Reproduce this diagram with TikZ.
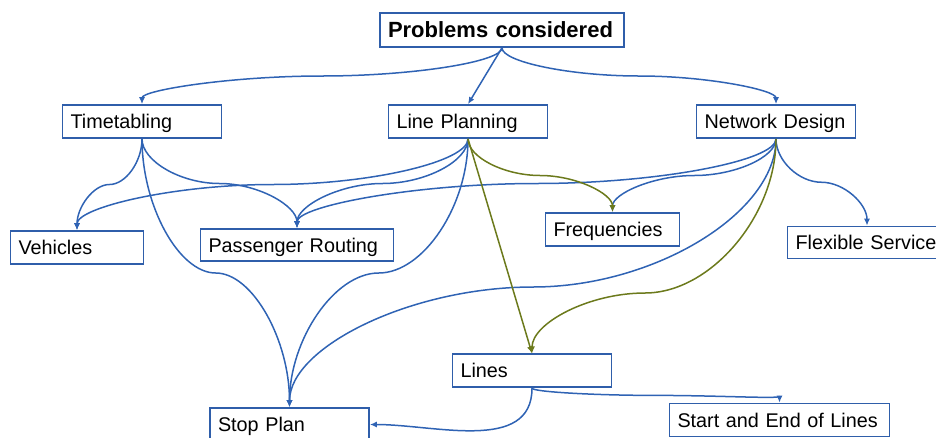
\documentclass[tikz,border=0pt]{standalone}
\usepackage{fontspec}
\setmainfont{Liberation Sans}
\usetikzlibrary{arrows.meta,calc}
\definecolor{boxblue}{RGB}{47,94,170}
\definecolor{linkblue}{RGB}{47,99,180}
\definecolor{linkolive}{RGB}{108,122,28}
\tikzset{box/.style={draw=boxblue, line width=1.7pt, text width=#1, inner xsep=8pt, inner ysep=0pt,
    text height=18pt, text depth=4pt, minimum height=33pt, align=left, font=\fontsize{19.8}{22}\selectfont},
%leaves downwards, runs level at the bend, enters downwards; bend is the middle by default
link/.style={line width=1.5pt, draw=linkblue, -{Latex[length=7pt,width=6pt]},
    to path={let \p1=(\tikztostart), \p2=(\tikztotarget), \p3=(#1) in
    .. controls (\x1,{(\y1+\y3)/2}) and ({(\x1+\x3)/2},\y3) .. (\p3)
    .. controls ({(\x3+\x2)/2},\y3) and (\x2,{(\y3+\y2)/2}) .. (\tikztotarget)}},
link/.default={$(\tikztostart)!0.5!(\tikztotarget)$}}

\begin{document}
\begin{tikzpicture}[x=1pt,y=-1pt]
    \useasboundingbox (0,0) rectangle (936,437);

    \node[box=228pt, minimum height=34pt, font=\bfseries\fontsize{22}{26}\selectfont] (prob) at (502,30) {Problems considered};

    \node[box=143pt] (tt) at (142,121.5) {Timetabling};
    \node[box=143pt] (lp) at (468,121.5) {Line Planning};
    \node[box=143pt] (nd) at (776,121.5) {Network Design};

    \node[box=117pt] (veh) at (77,247.5) {Vehicles};
    \node[box=177pt, minimum height=32pt] (pr) at (297,245) {Passenger Routing};
    \node[box=118pt] (freq) at (612.5,229.5) {Frequencies};
    \node[box=143pt, minimum height=32pt] (flex) at (867,242.5) {Flexible Service};

    \node[box=143pt] (lines) at (532,370.8) {Lines};
    \node[box=143pt] (stop) at (289.5,424.5) {Stop Plan};
    \node[box=204pt] (se) at (779.5,420) {Start and End of Lines};

    \coordinate (bendA) at (533,287);
    \coordinate (bendB) at (645,293);

    \foreach \a/\b in {prob/tt, prob/nd, tt/veh, tt/pr, tt/stop, lp/veh, lp/pr, lp/stop, nd/pr, nd/freq, nd/flex, lines/se}
    \draw[link] (\a.south) to (\b.north);

    \draw[link, draw=linkolive] (lp.south) to (freq.north);
    \draw[link=bendA] (nd.south) to (stop.north);
    \draw[link=bendB, draw=linkolive] (nd.south) to (lines.north);

    \draw[link] (prob.south) -- (lp.north);
    \draw[link, draw=linkolive] (lp.south) -- (lines.north);
    \draw[link] (lines.south) to[out=-90, in=0] (stop.east);

\end{tikzpicture}
\end{document}
